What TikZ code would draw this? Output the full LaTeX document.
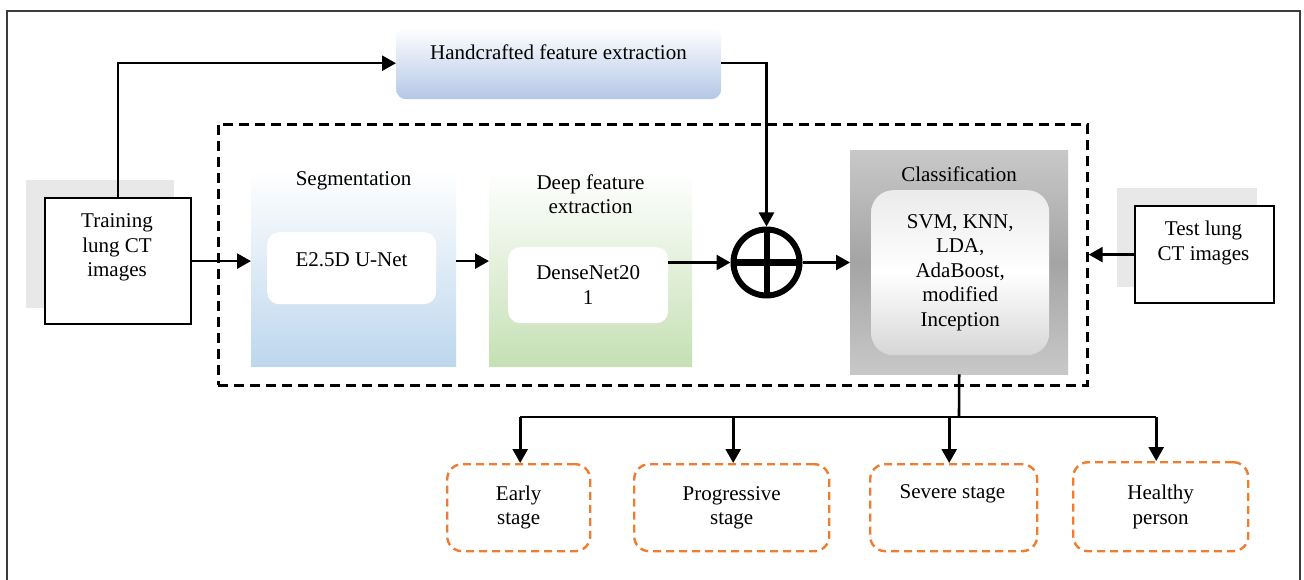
\documentclass[tikz,border=0pt]{standalone}
\usepackage{fontspec}
\setmainfont{Liberation Serif}
\usetikzlibrary{arrows.meta,calc}
\definecolor{hcblue}{HTML}{B4C7E7}
\definecolor{segblue}{HTML}{BDD7EE}
\definecolor{deepgreen}{HTML}{C5E0B4}
\definecolor{outorange}{HTML}{ED7D31}
\definecolor{shadowgray}{HTML}{E8E8E8}
\definecolor{framegray}{HTML}{3C3C3C}
\definecolor{clsgray}{HTML}{C8C8C8}
\definecolor{clsdark}{HTML}{A4A4A4}
\begin{document}
\begin{tikzpicture}[x=1pt,y=-1pt,
  txt/.style={font=\fontsize{21}{24.5}\selectfont, align=center, text=black, inner sep=0pt},
  arr/.style={line width=2.6pt, -{Triangle[length=14pt,width=15pt]}},
  ln/.style={line width=2.6pt},
  panel/.style={anchor=north west, inner sep=0pt, draw=none},
  whitebox/.style={anchor=north west, fill=white, rounded corners=12pt, inner sep=0pt, draw=none},
  outbox/.style={anchor=north west, draw=outorange, dash pattern=on 8pt off 5pt, line width=2.4pt, rounded corners=15pt, inner sep=0pt, txt},
  plainbox/.style={anchor=north west, draw=black, line width=2.2pt, fill=white, inner sep=0pt},
  shadowbox/.style={anchor=north west, fill=shadowgray, draw=none, inner sep=0pt},
]
\useasboundingbox (0,0) rectangle (1304,580);
\fill[white] (0,0) rectangle (1304,580);
% outer frame
\draw[framegray, line width=2pt] (6.5,580) -- (6.5,11) -- (1300,11) -- (1300,580);

% dashed group
\node[panel, draw=black, line width=2.7pt, dash pattern=on 10pt off 6pt, minimum width=869pt, minimum height=261pt] (grp) at (217,123) {};

% handcrafted
\node[panel, rounded corners=10pt, top color=white, bottom color=hcblue, minimum width=325pt, minimum height=72pt] (hc) at (396,27) {};
\node[txt] (hcT) at (558.5,52) {Handcrafted feature extraction};

% training
\node[shadowbox, minimum width=148pt, minimum height=128pt] (trainS) at (26,180) {};
\node[plainbox, minimum width=146pt, minimum height=126pt] (train) at (44,197) {};
\node[txt] (trainT) at (117,247.5) {Training\\lung CT\\images};

% segmentation
\node[panel, top color=white, bottom color=segblue, minimum width=205pt, minimum height=196pt] (seg) at (251,170) {};
\node[txt] (segT) at (353.5,181) {Segmentation};
\node[whitebox, minimum width=169pt, minimum height=72pt] (unet) at (267,232) {};
\node[txt] (unetT) at (351.5,260) {E2.5D U-Net};

% deep feature
\node[panel, top color=white, bottom color=deepgreen, minimum width=203pt, minimum height=194pt] (deep) at (489,172) {};
\node[txt] (deepT) at (590.5,194) {Deep feature\\extraction};
\node[whitebox, txt, minimum width=160pt, minimum height=76pt] (dense) at (508,247) {DenseNet20\\1};

% sum
\node[circle, draw=black, line width=6pt, minimum size=66pt, inner sep=0pt] (sum) at (766.5,262.5) {};
\draw[line width=6pt] ($(sum.center)+(0,-33)$) -- ($(sum.center)+(0,33)$);
\draw[line width=6pt] ($(sum.center)+(-33,0)$) -- ($(sum.center)+(33,0)$);

% classification
\node[panel, shading=axis, top color=clsgray, bottom color=clsgray, middle color=clsdark, minimum width=218pt, minimum height=224pt] (cls) at (850,150) {};
\node[txt] (clsT) at (959,174) {Classification};
\node[anchor=north west, inner sep=0pt, rounded corners=22pt, shading=axis, top color=white!92!black, bottom color=white!84!black, middle color=white, minimum width=178pt, minimum height=165pt, txt] (clsin) at (871,190) {SVM, KNN,\\LDA,\\AdaBoost,\\modified\\Inception};

% test
\node[shadowbox, minimum width=140pt, minimum height=99pt] (testS) at (1117,188) {};
\node[plainbox, minimum width=139pt, minimum height=97pt] (test) at (1134,205) {};
\node[txt] (testT) at (1203.5,243) {Test lung\\CT images};

% outputs
\node[outbox, minimum width=143pt, minimum height=87pt] (early) at (446,463) {Early\\stage};
\node[outbox, minimum width=195pt, minimum height=87pt] (prog) at (633,463) {Progressive\\stage};
\node[outbox, minimum width=167pt, minimum height=87pt] (sev) at (869,463) {};
\node[txt] (sevT) at (952.5,494) {Severe stage};
\node[outbox, minimum width=175pt, minimum height=89pt] (heal) at (1072,461) {Healthy\\person};

% connectors
\draw[arr] (train.north) |- (hc.west);
\draw[arr] (train.east) -- (train.east -| seg.west);
\draw[arr] (seg.east |- train.east) -- (deep.west |- train.east);
\draw[arr] (dense.east |- sum.west) -- (sum.west);
\draw[arr] (hc.east) -| (sum.north);
\draw[arr] (sum.east) -- (sum.east -| cls.west);
\draw[arr] (test.west) -- (test.west -| grp.east);

\coordinate (bus) at (959,417);
\draw[ln] (cls.south) -- (bus);
\draw[ln] ([xshift=1.5pt]early.north |- bus) -- ([xshift=-4.5pt]heal.north |- bus);
\draw[arr] ([xshift=1.5pt]early.north |- bus) -- ([xshift=1.5pt]early.north);
\draw[arr] ([xshift=1.5pt]prog.north |- bus) -- ([xshift=1.5pt]prog.north);
\draw[arr] ([xshift=-4.5pt]sev.north |- bus) -- ([xshift=-4.5pt]sev.north);
\draw[arr] ([xshift=-4.5pt]heal.north |- bus) -- ([xshift=-4.5pt]heal.north);
\end{tikzpicture}
\end{document}
